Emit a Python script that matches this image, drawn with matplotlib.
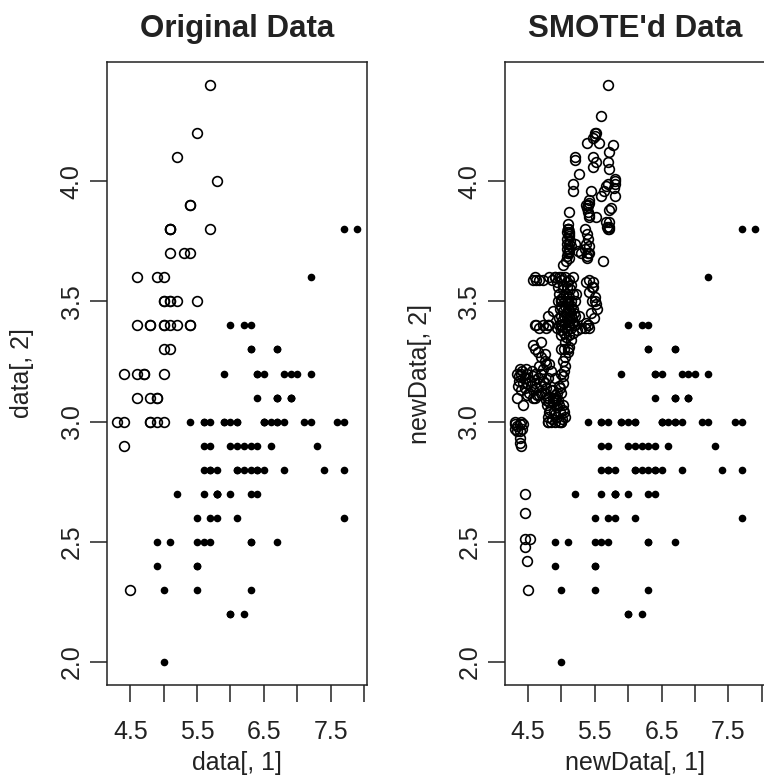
import numpy as np
import matplotlib
matplotlib.use('Agg')
import matplotlib.pyplot as plt

plt.rcParams['font.family'] = ['Liberation Sans', 'DejaVu Sans']

#iris sepal length / width, setosa = "rare" class (open circles)
rare_x = [5.1, 4.9, 4.7, 4.6, 5.0, 5.4, 4.6, 5.0, 4.4, 4.9,
          5.4, 4.8, 4.8, 4.3, 5.8, 5.7, 5.4, 5.1, 5.7, 5.1,
          5.4, 5.1, 4.6, 5.1, 4.8, 5.0, 5.0, 5.2, 5.2, 4.7,
          4.8, 5.4, 5.2, 5.5, 4.9, 5.0, 5.5, 4.9, 4.4, 5.1,
          5.0, 4.5, 4.4, 5.0, 5.1, 4.8, 5.1, 4.6, 5.3, 5.0]
rare_y = [3.5, 3.0, 3.2, 3.1, 3.6, 3.9, 3.4, 3.4, 2.9, 3.1,
          3.7, 3.4, 3.0, 3.0, 4.0, 4.4, 3.9, 3.5, 3.8, 3.8,
          3.4, 3.7, 3.6, 3.3, 3.4, 3.0, 3.4, 3.5, 3.4, 3.2,
          3.1, 3.4, 4.1, 4.2, 3.1, 3.2, 3.5, 3.6, 3.0, 3.4,
          3.5, 2.3, 3.2, 3.5, 3.8, 3.0, 3.8, 3.2, 3.7, 3.3]

#versicolor + virginica = "common" class (filled dots)
common_x = [7.0, 6.4, 6.9, 5.5, 6.5, 5.7, 6.3, 4.9, 6.6, 5.2,
            5.0, 5.9, 6.0, 6.1, 5.6, 6.7, 5.6, 5.8, 6.2, 5.6,
            5.9, 6.1, 6.3, 6.1, 6.4, 6.6, 6.8, 6.7, 6.0, 5.7,
            5.5, 5.5, 5.8, 6.0, 5.4, 6.0, 6.7, 6.3, 5.6, 5.5,
            5.5, 6.1, 5.8, 5.0, 5.6, 5.7, 5.7, 6.2, 5.1, 5.7,
            6.3, 5.8, 7.1, 6.3, 6.5, 7.6, 4.9, 7.3, 6.7, 7.2,
            6.5, 6.4, 6.8, 5.7, 5.8, 6.4, 6.5, 7.7, 7.7, 6.0,
            6.9, 5.6, 7.7, 6.3, 6.7, 7.2, 6.2, 6.1, 6.4, 7.2,
            7.4, 7.9, 6.4, 6.3, 6.1, 7.7, 6.3, 6.4, 6.0, 6.9,
            6.7, 6.9, 5.8, 6.8, 6.7, 6.7, 6.3, 6.5, 6.2, 5.9]
common_y = [3.2, 3.2, 3.1, 2.3, 2.8, 2.8, 3.3, 2.4, 2.9, 2.7,
            2.0, 3.0, 2.2, 2.9, 2.9, 3.1, 3.0, 2.7, 2.2, 2.5,
            3.2, 2.8, 2.5, 2.8, 2.9, 3.0, 2.8, 3.0, 2.9, 2.6,
            2.4, 2.4, 2.7, 2.7, 3.0, 3.4, 3.1, 2.3, 3.0, 2.5,
            2.6, 3.0, 2.6, 2.3, 2.7, 3.0, 2.9, 2.9, 2.5, 2.8,
            3.3, 2.7, 3.0, 2.9, 3.0, 3.0, 2.5, 2.9, 2.5, 3.6,
            3.2, 2.7, 3.0, 2.5, 2.8, 3.2, 3.0, 3.8, 2.6, 2.2,
            3.2, 2.8, 2.8, 2.7, 3.3, 3.2, 2.8, 3.0, 2.8, 3.0,
            2.8, 3.8, 2.8, 2.8, 2.6, 3.0, 3.4, 3.1, 3.0, 3.1,
            3.1, 3.1, 2.7, 3.2, 3.3, 3.0, 2.5, 3.0, 3.4, 3.0]

#synthetic rare cases
syn_x = [5.60, 5.50, 5.52, 5.48, 5.39, 5.57, 5.77, 5.72, 5.20, 5.47,
         5.52, 5.47, 5.70, 5.72, 5.27, 5.17, 5.17, 5.80, 5.80, 5.79,
         5.60, 5.64, 5.67, 5.70, 5.80, 5.44, 5.42, 5.41,
         5.12, 5.37, 5.38, 5.40, 5.41, 5.42, 5.52, 5.75, 5.72, 5.71, 5.72, 5.72, 5.67, 5.69,
         5.10, 5.08, 5.11, 5.12, 5.09, 5.13, 5.11, 5.14, 5.09, 5.12, 5.10, 5.08, 5.12, 5.07,
         5.35, 5.38, 5.40, 5.37, 5.41, 5.36, 5.42, 5.39, 5.38,
         5.20, 5.25, 5.62, 5.02,
         4.57, 4.62, 4.67, 4.72,
         4.82, 4.86, 4.90, 4.93, 4.97, 5.00, 5.03, 5.06, 5.09, 5.12, 5.15, 5.17, 4.95, 5.02,
         5.42, 5.46, 5.42, 5.50, 5.46, 5.53, 5.45, 5.49, 5.52, 5.48, 5.37, 5.47, 5.22,
         4.95, 5.00, 5.05, 5.10, 5.15, 4.98, 5.03, 5.08, 5.13, 5.18,
         4.96, 5.01, 5.06, 5.11, 5.16, 5.21, 4.94, 4.99, 5.04, 5.09,
         5.14, 5.19, 5.23, 5.00, 5.07, 5.12,
         4.97, 5.02, 5.07, 5.12, 5.17, 4.99, 5.04, 5.09, 5.14, 5.19,
         4.96, 5.01, 5.06, 5.11, 5.16, 5.05, 5.10, 5.15, 5.00, 5.08, 5.13,
         4.62, 4.72, 4.82, 4.67, 4.77, 4.87, 4.80,
         5.12, 5.27, 5.37, 5.30, 5.42, 5.35,
         5.17, 5.15, 5.12, 5.10, 5.06, 5.04, 5.05, 5.03, 5.06, 5.04, 5.02, 5.03,
         4.57, 4.70, 4.60, 4.65, 4.70, 4.75, 4.77, 4.72, 4.66, 4.75,
         4.82, 4.85, 4.80, 4.90, 4.75,
         4.33, 4.37, 4.41, 4.45, 4.49, 4.53, 4.57, 4.61, 4.65, 4.69,
         4.73, 4.77, 4.35, 4.40, 4.46, 4.52, 4.58, 4.64, 4.70,
         4.36, 4.42, 4.48, 4.55, 4.38, 4.47, 4.56, 4.62,
         4.33, 4.42, 4.48, 4.57, 4.67, 4.97, 4.94,
         4.75, 4.80, 4.85, 4.90, 4.95, 5.00, 4.78, 4.83, 4.88, 4.93,
         4.98, 5.03, 4.80, 4.86, 4.91, 4.96, 5.01, 5.06, 4.84, 4.99,
         4.77, 4.82, 4.87, 4.92, 4.97, 5.02, 4.81, 4.89, 4.94, 5.04, 4.88, 4.98,
         5.10, 5.12, 5.09, 5.11,
         4.30, 4.38, 4.30, 4.38, 4.43, 4.34, 4.33, 4.41, 4.38, 4.38,
         4.45, 4.45, 4.45, 4.53, 4.45, 4.48]
syn_y = [4.27, 4.19, 4.20, 4.18, 4.16, 4.16, 4.15, 4.12, 4.09, 4.10,
         4.08, 4.06, 4.08, 4.05, 4.03, 3.99, 3.96, 4.01, 3.99, 3.97,
         3.94, 3.96, 3.98, 3.99, 3.94, 3.96, 3.92, 3.91,
         3.87, 3.90, 3.89, 3.87, 3.86, 3.85, 3.85, 3.89, 3.83, 3.81, 3.80, 3.88, 3.83, 3.81,
         3.80, 3.79, 3.78, 3.77, 3.76, 3.75, 3.74, 3.73, 3.72, 3.71, 3.70, 3.69, 3.68, 3.67,
         3.80, 3.78, 3.76, 3.74, 3.73, 3.72, 3.70, 3.69, 3.68,
         3.74, 3.71, 3.67, 3.65,
         3.59, 3.59, 3.59, 3.59,
         3.60, 3.59, 3.60, 3.58, 3.60, 3.59, 3.57, 3.60, 3.58, 3.59, 3.57, 3.60, 3.56, 3.55,
         3.59, 3.56, 3.54, 3.52, 3.50, 3.47, 3.45, 3.43, 3.49, 3.58, 3.58, 3.56, 3.53,
         3.50, 3.51, 3.50, 3.49, 3.50, 3.47, 3.46, 3.45, 3.46, 3.47,
         3.43, 3.42, 3.41, 3.42, 3.43, 3.44, 3.39, 3.38, 3.37, 3.38,
         3.39, 3.40, 3.38, 3.36, 3.35, 3.36,
         3.53, 3.52, 3.53, 3.52, 3.53, 3.44, 3.44, 3.43, 3.44, 3.45,
         3.40, 3.40, 3.39, 3.40, 3.41, 3.48, 3.47, 3.48, 3.48, 3.56, 3.55,
         3.40, 3.40, 3.40, 3.39, 3.39, 3.46, 3.44,
         3.43, 3.44, 3.41, 3.39, 3.39, 3.39,
         3.37, 3.34, 3.31, 3.29, 3.33, 3.30, 3.27, 3.25, 3.23, 3.21, 3.19, 3.16,
         3.32, 3.33, 3.30, 3.29, 3.27, 3.25, 3.24, 3.22, 3.23, 3.28,
         3.24, 3.21, 3.18, 3.18, 3.16,
         3.20, 3.19, 3.21, 3.18, 3.20, 3.17, 3.19, 3.16, 3.18, 3.15,
         3.17, 3.14, 3.15, 3.13, 3.14, 3.12, 3.13, 3.11, 3.12,
         3.17, 3.16, 3.16, 3.15, 3.22, 3.22, 3.21, 3.14,
         3.10, 3.07, 3.11, 3.10, 3.11, 3.15, 3.12,
         3.12, 3.10, 3.13, 3.11, 3.09, 3.12, 3.07, 3.05, 3.08, 3.06,
         3.04, 3.07, 3.02, 3.01, 3.03, 3.00, 3.01, 3.02, 3.00, 3.00,
         3.09, 3.08, 3.10, 3.09, 3.07, 3.05, 3.04, 3.04, 3.02, 3.04, 3.13, 3.14,
         3.82, 3.79, 3.74, 3.72,
         2.99, 2.99, 2.97, 2.96, 2.99, 2.98, 2.96, 2.97, 2.93, 2.91,
         2.70, 2.62, 2.51, 2.51, 2.48, 2.42]

titles = ['Original Data', "SMOTE'd Data"]
xlabels = ['data[, 1]', 'newData[, 1]']
ylabels = ['data[, 2]', 'newData[, 2]']
x_ticks = [4.5, 5.0, 5.5, 6.0, 6.5, 7.0, 7.5, 8.0]
x_ticklabels = ['4.5', '', '5.5', '', '6.5', '', '7.5', '']
y_ticks = [2.0, 2.5, 3.0, 3.5, 4.0]
y_ticklabels = ['2.0', '2.5', '3.0', '3.5', '4.0']

W, H = 764, 782
fig = plt.figure(figsize=(W/100, H/100), dpi=100)
txt = '#222222'

lefts = [107.3, 505.0]
axes = []
for k in range(2):
    ax = fig.add_axes([lefts[k]/W, (H-685)/H, 259.7/W, 623/H])
    axes.append(ax)
    ax.set_xlim(4.156, 8.044)
    ax.set_ylim(1.904, 4.496)
    for s in ax.spines.values():
        s.set_linewidth(1.1)
        s.set_color('#222222')
    ax.set_xticks(x_ticks)
    ax.set_xticklabels(x_ticklabels)
    ax.set_yticks(y_ticks)
    ax.set_yticklabels(y_ticklabels, rotation=90, va='center')
    ax.tick_params(axis='both', length=12, width=1.1, color='#222222',
                   labelsize=18, labelcolor=txt)
    ax.tick_params(axis='x', pad=13)
    ax.tick_params(axis='y', pad=5)
    ax.text(0.5, 1.040, titles[k], transform=ax.transAxes, ha='center',
            va='baseline', fontsize=22.5, fontweight='bold', color=txt)
    ax.set_xlabel(xlabels[k], fontsize=18, color=txt)
    ax.xaxis.set_label_coords(0.5, -(763-685)/623)
    ax.xaxis.label.set_va('center')
    ax.set_ylabel(ylabels[k], fontsize=18, color=txt)
    ax.yaxis.set_label_coords(-85/259.7, 0.5)
    ax.yaxis.label.set_va('center')

#open circles = rare, small dots = common
axes[0].plot(common_x, common_y, 'o', ms=5.5, color='black', mec='black', mew=0)
axes[0].plot(rare_x, rare_y, 'o', ms=7.0, mfc='none', mec='black', mew=1.2)

axes[1].plot(common_x, common_y, 'o', ms=5.5, color='black', mec='black', mew=0)
axes[1].plot(rare_x + syn_x, rare_y + syn_y, 'o', ms=7.0, mfc='none', mec='black', mew=1.2)

fig.savefig('out.png', dpi=100)
